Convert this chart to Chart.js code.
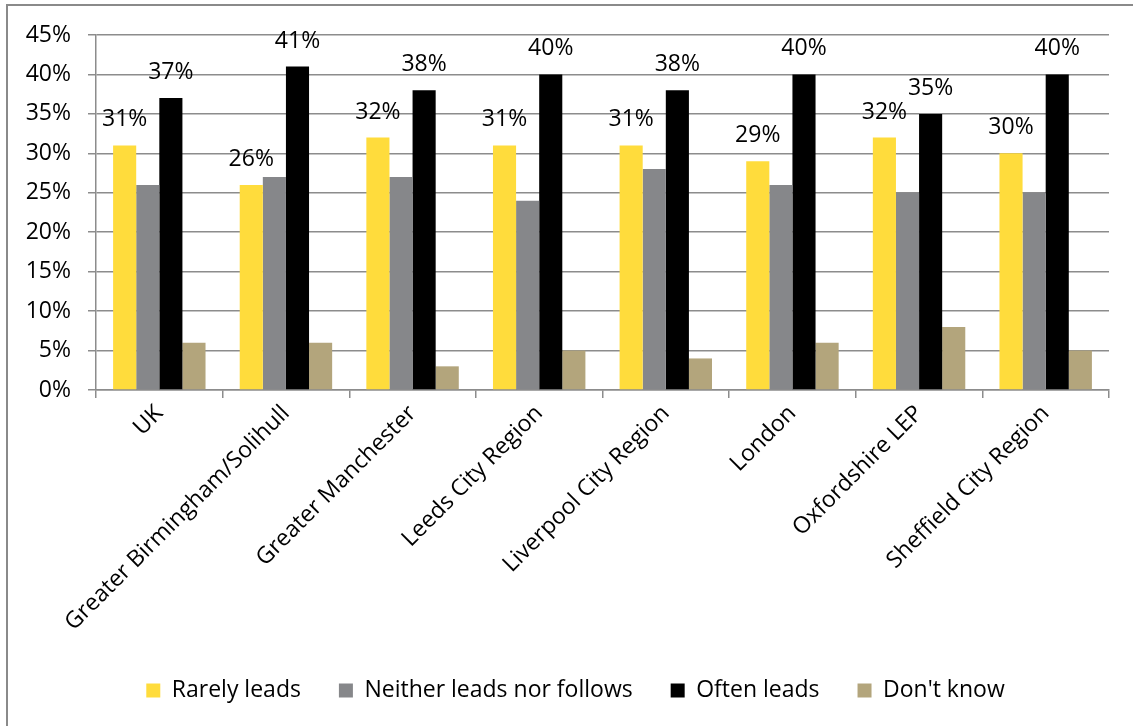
<!DOCTYPE html>
<html>
<head>
<meta charset="utf-8">
<script src="https://cdn.jsdelivr.net/npm/chart.js@4"></script>
<style>
  html, body { margin: 0; padding: 0; background: #fff; }
  #wrap { width: 1133px; height: 726px; }
</style>
</head>
<body>
<div id="wrap"><canvas id="bars" width="1133" height="726"></canvas></div>
<script>
const regions = ['UK', 'Greater Birmingham/Solihull', 'Greater Manchester', 'Leeds City Region',
    'Liverpool City Region', 'London', 'Oxfordshire LEP', 'Sheffield City Region'];
const rarelyLeads = [31, 26, 32, 31, 31, 29, 32, 30];
const neitherLeads = [26, 27, 27, 24, 28, 26, 25, 25];
const oftenLeads = [37, 41, 38, 40, 38, 40, 35, 40];
const dontKnow = [6, 6, 3, 5, 4, 6, 8, 5];
const yTicks = [0, 5, 10, 15, 20, 25, 30, 35, 40, 45];

const FONT = "'Open Sans', 'DejaVu Sans', sans-serif";
const FSIZE = 23;
const gridGrey = '#8c8c8c';

// labels above the yellow and black bars
const barLabels = {
    id: 'barLabels',
    afterDatasetsDraw(chart) {
        const ctx = chart.ctx;
        ctx.save();
        ctx.font = FSIZE + "px " + FONT;
        ctx.fillStyle = '#000';
        ctx.textAlign = 'center';
        ctx.textBaseline = 'bottom';
        chart.data.datasets.forEach((ds, i) => {
            if (!ds.showLabels) return;
            chart.getDatasetMeta(i).data.forEach((bar, j) => {
                ctx.fillText(ds.data[j] + '%', bar.x, bar.y - 14);
            });
        });
        ctx.restore();
    }
};

// the frame round the chart (top and left edges only show)
const frame = {
    id: 'frame',
    afterLayout(chart) {
        // legend sits a bit right of centre in the original
        chart.legend.left += 42;
    },
    beforeDraw(chart) {
        const ctx = chart.ctx;
        ctx.save();
        ctx.strokeStyle = '#8a8a8a';
        ctx.lineWidth = 2;
        ctx.beginPath();
        ctx.moveTo(7, 726);
        ctx.lineTo(7, 5);
        ctx.lineTo(1133, 5);
        ctx.stroke();
        ctx.restore();
    }
};

const data = {
    labels: regions,
    datasets: [{
        label: 'Rarely leads',
        data: rarelyLeads,
        backgroundColor: '#ffdc3c',
        showLabels: true
    }, {
        label: 'Neither leads nor follows',
        data: neitherLeads,
        backgroundColor: '#86878a'
    }, {
        label: 'Often leads',
        data: oftenLeads,
        backgroundColor: '#000000',
        showLabels: true
    }, {
        label: "Don't know",
        data: dontKnow,
        backgroundColor: '#b3a57c'
    }]
};

const config = {
    type: 'bar',
    data: data,
    options: {
        responsive: false,
        animation: false,
        categoryPercentage: 0.73,
        barPercentage: 1,
        layout: {
            padding: { top: 35, right: 24, bottom: 14, left: 0 }
        },
        plugins: {
            legend: {
                position: 'bottom',
                labels: {
                    color: '#000',
                    font: { family: FONT, size: FSIZE },
                    boxWidth: 14,
                    boxHeight: 14,
                    padding: 38
                }
            },
            tooltip: { enabled: false }
        },
        scales: {
            x: {
                grid: {
                    offset: true,
                    drawOnChartArea: false,
                    drawTicks: true,
                    tickLength: 8,
                    color: gridGrey,
                    lineWidth: 1.5
                },
                border: { color: gridGrey, width: 1.5 },
                ticks: {
                    color: '#000',
                    font: { family: FONT, size: FSIZE },
                    minRotation: 45,
                    maxRotation: 45,
                    padding: 2
                },
                afterFit(scale) { scale.height = 251; }
            },
            y: {
                min: 0,
                max: 45,
                afterBuildTicks(scale) {
                    scale.ticks = yTicks.map(v => ({ value: v }));
                },
                grid: {
                    color: gridGrey,
                    lineWidth: 1.5,
                    tickLength: 8
                },
                border: { color: gridGrey, width: 1.5 },
                ticks: {
                    color: '#000',
                    font: { family: FONT, size: FSIZE },
                    padding: 17,
                    callback: v => v + '%'
                },
                afterFit(scale) { scale.width = 96; }
            }
        }
    },
    plugins: [frame, barLabels]
};

const chart = new Chart(document.getElementById('bars'), config);
</script>
</body>
</html>
